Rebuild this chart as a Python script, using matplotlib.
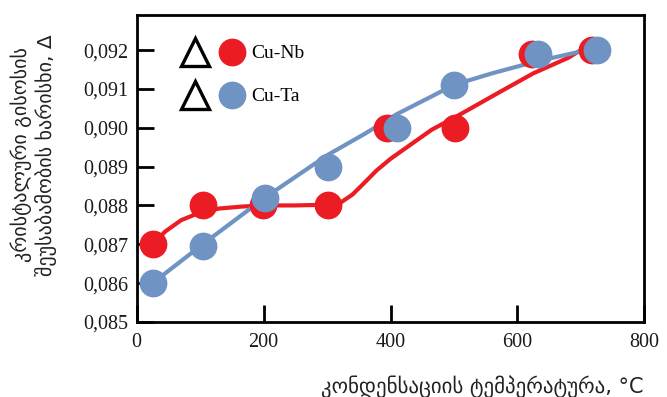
import matplotlib.pyplot as plt
from matplotlib.lines import Line2D
from matplotlib.legend_handler import HandlerTuple

RED = '#ec1c24'
BLUE = '#6f93c2'

# measured points
nb_x = [25, 104, 199, 301, 395, 502, 623, 718]
nb_y = [0.0870, 0.0880, 0.0880, 0.0880, 0.0900, 0.0900, 0.0919, 0.0920]
ta_x = [25, 104, 202, 301, 410, 500, 632, 725]
ta_y = [0.0860, 0.08695, 0.0882, 0.0890, 0.0900, 0.0911, 0.0919, 0.0920]

# fitted curves
nb_fit_x = [25, 45, 70, 100, 130, 165, 200, 250, 305, 322, 340, 358, 378, 400, 426, 465, 505,
            570, 625, 680, 720]
nb_fit_y = [0.0870, 0.08733, 0.08762, 0.08782, 0.08792, 0.08797, 0.0880, 0.0880, 0.08802,
            0.08808, 0.08828, 0.08857, 0.0889, 0.0892, 0.0895, 0.08995, 0.0903, 0.0909,
            0.0914, 0.0918, 0.0922]
ta_fit_x = [25, 104, 202, 301, 360, 410, 440, 470, 499, 560, 628, 710]
ta_fit_y = [0.0860, 0.0870, 0.0882, 0.0893, 0.08985, 0.09035, 0.0906, 0.09085, 0.0911,
            0.0914, 0.0917, 0.0920]

x_ticks = [0, 200, 400, 600, 800]
y_ticks = [0.085, 0.086, 0.087, 0.088, 0.089, 0.090, 0.091, 0.092]

fig = plt.figure(figsize=(6.67, 3.97), dpi=100)
ax = fig.add_axes([0.205, 0.189, 0.761, 0.773])

ax.plot(nb_fit_x, nb_fit_y, color=RED, lw=3, solid_capstyle='round', solid_joinstyle='round', zorder=2)
ax.plot(ta_fit_x, ta_fit_y, color=BLUE, lw=3, solid_capstyle='round', solid_joinstyle='round', zorder=2)
ax.plot(nb_x, nb_y, 'o', color=RED, ms=20, mec='none', zorder=3)
ax.plot(ta_x, ta_y, 'o', color=BLUE, ms=20, mec='none', zorder=4)

ax.set_xlim(0, 800)
ax.set_ylim(0.085, 0.0929)
ax.set_xticks(x_ticks)
ax.set_yticks(y_ticks)
ax.set_xticklabels([str(v) for v in x_ticks], fontfamily='Liberation Serif', fontsize=14.5)
ax.set_yticklabels([f'{v:.3f}'.replace('.', ',') for v in y_ticks],
                   fontfamily='Liberation Serif', fontsize=14.5)
ax.tick_params(direction='in', length=12, width=2, color='black', pad=6, labelcolor='#1a1a1a')
ax.tick_params(axis='x', pad=8)
for s in ax.spines.values():
    s.set_linewidth(2)

tri = Line2D([], [], marker='^', ls='none', mfc='none', mec='black', mew=2.4, ms=20)
h_nb = Line2D([], [], marker='o', ls='none', color=RED, mec='none', ms=20)
h_ta = Line2D([], [], marker='o', ls='none', color=BLUE, mec='none', ms=20)
ax.legend([(tri, h_nb), (tri, h_ta)], ['Cu-Nb', 'Cu-Ta'],
          handler_map={tuple: HandlerTuple(ndivide=None, pad=0.6)},
          loc='upper left', bbox_to_anchor=(0.055, 0.96), frameon=False,
          handlelength=3.2, handletextpad=0.35, labelspacing=1.3,
          prop={'family': 'Liberation Serif', 'size': 14})

fig.text(0.032, 0.61, 'კრისტალური გისოსის', rotation=90, fontsize=14.5,
         family='DejaVu Sans', color='#222222', ha='center', va='center')
fig.text(0.069, 0.61, 'შეუსაბამობის ხარისხი, Δ', rotation=90, fontsize=14.5,
         family='DejaVu Sans', color='#222222', ha='center', va='center')
ax.set_xlabel('კონდენსაციის ტემპერატურა, °C', fontsize=15, family='DejaVu Sans',
              color='#222222', labelpad=4)
ax.xaxis.set_label_coords(0.68, -0.175)

fig.savefig('out.png', dpi=100)
